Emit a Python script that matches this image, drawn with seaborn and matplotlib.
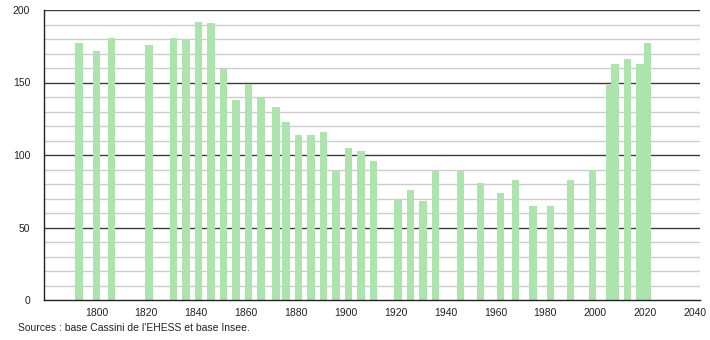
import matplotlib
matplotlib.use("Agg")
import matplotlib.pyplot as plt
import seaborn as sns
import pandas as pd
import numpy as np

years = [1793, 1800, 1806, 1821, 1831, 1836, 1841, 1846, 1851, 1856,
         1861, 1866, 1872, 1876, 1881, 1886, 1891, 1896, 1901, 1906,
         1911, 1921, 1926, 1931, 1936, 1946, 1954, 1962, 1968, 1975,
         1982, 1990, 1999, 2006, 2008, 2013, 2018, 2021]
population = [177, 172, 181, 176, 181, 180, 192, 191, 159, 138,
              149, 139, 133, 123, 114, 114, 116, 89, 105, 103,
              96, 70, 76, 68, 89, 89, 81, 74, 83, 65,
              65, 83, 90, 148, 163, 166, 163, 177]
x_ticks = [1800, 1820, 1840, 1860, 1880, 1900, 1920, 1940, 1960, 1980, 2000, 2020, 2040]
y_ticks = [0, 50, 100, 150, 200]
source_text = "Sources : base Cassini de l'EHESS et base Insee."

sns.set_style("white")
plt.rcParams['font.family'] = ['Liberation Sans', 'DejaVu Sans']

df = pd.DataFrame({"year": years, "pop": population})

fig = plt.figure(figsize=(7.1, 3.4), dpi=100)
ax = fig.add_axes([44/710, 1 - 300/340, (700-44)/710, 290/340])

# grid
for v in range(10, 201, 10):
    if v % 50 == 0:
        ax.axhline(v, color="#3a3a3a", lw=1.0, zorder=0)
    else:
        ax.axhline(v, color="#cccccc", lw=1.0, zorder=0)

sns.barplot(data=df, x="year", y="pop", native_scale=True, width=1.5,
            color="#ade3ad", saturation=1, edgecolor="none", linewidth=0,
            ax=ax, zorder=2, errorbar=None)

ax.set_xlim(1779, 2042)
ax.set_ylim(0, 200)
ax.set_xticks(x_ticks)
ax.set_xticklabels([str(t) for t in x_ticks], fontsize=7.5, color="#222222")
ax.set_yticks(y_ticks)
ax.set_yticklabels([str(t) for t in y_ticks], fontsize=7.5, color="#222222")
ax.set_yticks(range(0, 201, 10), minor=True)
ax.tick_params(axis="x", length=0, pad=6)
ax.tick_params(axis="y", which="major", length=4, width=1, color="#222222", pad=6)
ax.tick_params(axis="y", which="minor", length=2, width=1, color="#222222")
ax.set_xlabel("")
ax.set_ylabel("")

for s in ["top", "right"]:
    ax.spines[s].set_visible(False)
ax.spines["left"].set_color("#222222")
ax.spines["bottom"].set_color("#222222")
ax.spines["left"].set_linewidth(1)
ax.spines["bottom"].set_linewidth(1)
ax.spines["left"].set_zorder(3)
ax.spines["bottom"].set_zorder(3)

fig.text(18/710, 1 - 328/340, source_text, fontsize=7.5, color="#222222",
         ha="left", va="center")

fig.savefig("out.png", dpi=100)
